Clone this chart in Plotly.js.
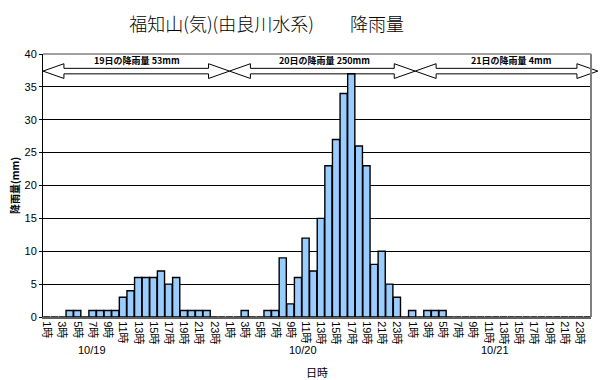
<!DOCTYPE html>
<html>
<head>
<meta charset="utf-8">
<script src="https://cdn.plot.ly/plotly-3.0.1.min.js"></script>
<style>html,body{margin:0;padding:0;background:#fff;}#chart{width:610px;height:380px;}</style>
</head>
<body>
<div id="chart"></div>
<script>
const days = ['10/19', '10/20', '10/21'];
const dayNames = ['19日', '20日', '21日'];
const dayTotals = [53, 250, 4];
const hours = [1,2,3,4,5,6,7,8,9,10,11,12,13,14,15,16,17,18,19,20,21,22,23,24];
const rain19 = [0,0,0,1,1,0,1,1,1,1,3,4,6,6,6,7,5,6,1,1,1,1,0,0];
const rain20 = [0,0,1,0,0,1,1,9,2,6,12,7,15,23,27,34,37,26,23,8,10,5,3,0];
const rain21 = [1,0,1,1,1,0,0,0,0,0,0,0,0,0,0,0,0,0,0,0,0,0,0,0];
const yTicks = [0,5,10,15,20,25,30,35,40];

const series = [rain19, rain20, rain21];
const xs = [], ys = [], tickvals = [], ticktext = [];
series.forEach((arr, d) => {
  arr.forEach((v, h) => {
    const idx = d * hours.length + h;
    xs.push(idx); ys.push(v);
    if (hours[h] % 2 === 1) { tickvals.push(idx); ticktext.push(hours[h] + '時'); }
  });
});
const nSlots = xs.length;
const xmin = -0.5, xmax = nSlots - 0.5, ymax = 40;
const px = x => (x - xmin) / (xmax - xmin);
const py = y => y / ymax;

// double block arrows per day (paper coords, derived from day spans)
const arrowSpans = [[-0.5, 24.0], [24.0, 48.4], [48.4, 72.4]];
const yc = 37.4, shaftH = 0.42, headH = 1.12, headL = 2.75;
const shapes = arrowSpans.map(([a, b]) => {
  const p = [
    [a, yc], [a + headL, yc + headH], [a + headL, yc + shaftH], [b - headL, yc + shaftH],
    [b - headL, yc + headH], [b, yc], [b - headL, yc - headH], [b - headL, yc - shaftH],
    [a + headL, yc - shaftH], [a + headL, yc - headH]
  ];
  return {
    type: 'path', xref: 'paper', yref: 'paper',
    path: 'M' + p.map(q => px(q[0]).toFixed(5) + ',' + py(q[1]).toFixed(5)).join(' L') + ' Z',
    line: {color: '#000', width: 1}, fillcolor: 'rgba(255,255,255,0)', layer: 'above'
  };
});
shapes.push({type: 'line', xref: 'paper', yref: 'paper', x0: 1, x1: 1, y0: 0, y1: 1,
  line: {color: '#808080', width: 2}});
shapes.push({type: 'line', xref: 'paper', yref: 'paper', x0: 0, x1: 1, y0: 1, y1: 1,
  line: {color: '#808080', width: 1.5}});

const textX = [11.8, 36.5, 61.0];
const dateX = [5.9, 33.6, 58.9];
const annotations = [];
dayNames.forEach((n, i) => {
  annotations.push({
    x: textX[i], xref: 'x', y: 39.0, yref: 'y', text: n + 'の降雨量 ' + dayTotals[i] + 'mm',
    showarrow: false, font: {family: 'Noto Sans CJK JP', size: 9, color: '#000', weight: 'bold'}
  });
  annotations.push({
    x: dateX[i], xref: 'x', y: -0.125, yref: 'paper', yanchor: 'middle', text: days[i],
    showarrow: false, font: {family: 'Liberation Sans, Arial', size: 11, color: '#000'}
  });
});

const trace = {
  type: 'bar', x: xs, y: ys,
  marker: {color: '#99CCFF', line: {color: '#000', width: 1.4}},
  hoverinfo: 'x+y'
};

const layout = {
  width: 610, height: 380,
  margin: {l: 43, r: 19, t: 54, b: 63},
  paper_bgcolor: '#fff', plot_bgcolor: '#fff',
  showlegend: false,
  bargap: 0.06,
  title: {
    text: '福知山(気)(由良川水系)　　降雨量',
    x: 0.437, xanchor: 'center', y: 0.935, yanchor: 'middle',
    font: {family: 'Noto Sans CJK JP', size: 18, color: '#000', weight: 300}
  },
  xaxis: {
    range: [xmin, xmax], tickmode: 'array', tickvals: tickvals, ticktext: ticktext,
    tickangle: 90, ticks: '', showgrid: false, zeroline: false,
    showline: true, linecolor: '#606060', linewidth: 2,
    tickfont: {family: 'Liberation Sans, Noto Sans CJK JP', size: 11, color: '#000'},
    title: {text: '日時', standoff: 32, font: {family: 'Noto Sans CJK JP', size: 11, color: '#000'}}
  },
  yaxis: {
    range: [0, ymax], tickmode: 'array', tickvals: yTicks,
    ticks: 'outside', ticklen: 3, tickcolor: '#000',
    showgrid: true, gridcolor: '#000', gridwidth: 1, zeroline: false,
    showline: true, linecolor: '#000', linewidth: 1,
    tickfont: {family: 'Liberation Sans, Arial', size: 11, color: '#000'},
    title: {text: '降雨量(mm)', standoff: 3, font: {family: 'Noto Sans CJK JP', size: 10, color: '#000', weight: 'bold'}}
  },
  shapes: shapes,
  annotations: annotations
};

Plotly.newPlot('chart', [trace], layout, {displayModeBar: false, staticPlot: true});
</script>
</body>
</html>
